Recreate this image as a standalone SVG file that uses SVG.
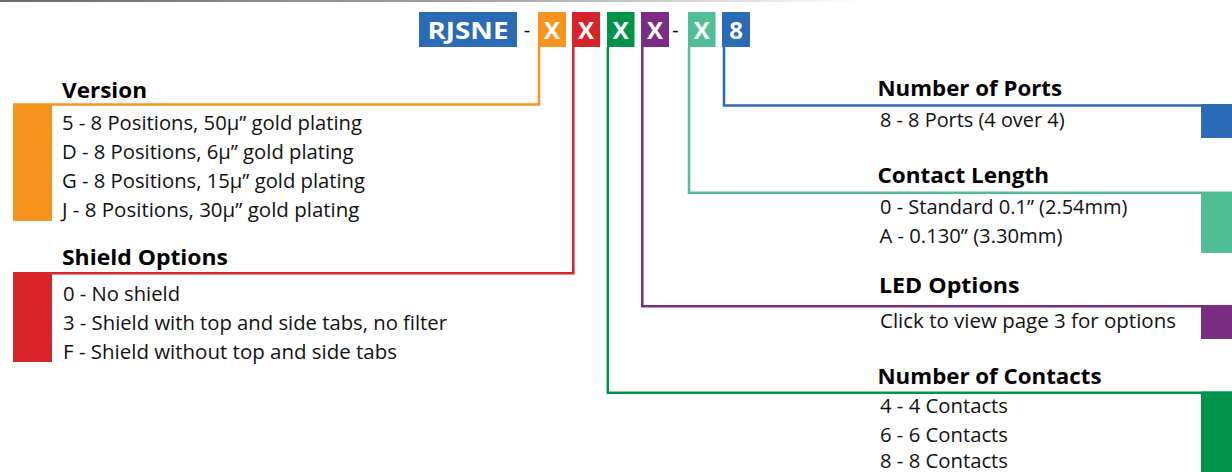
<svg xmlns="http://www.w3.org/2000/svg" width="1232" height="472" viewBox="0 0 1232 472">
<defs>
<linearGradient id="topbar" x1="0" y1="0" x2="1" y2="0">
<stop offset="0" stop-color="#6b6b6b"/>
<stop offset="0.4" stop-color="#a6a6a6"/>
<stop offset="0.7" stop-color="#ffffff"/>
</linearGradient>
<style>
.h{font-family:"Open Sans","Noto Sans",sans-serif;font-weight:bold;font-size:22px;fill:#000}
.t{font-family:"Open Sans","Noto Sans",sans-serif;font-size:20px;fill:#111}
.c{font-family:"Open Sans","Noto Sans",sans-serif;font-weight:bold;font-size:24px;fill:#fff;text-anchor:middle}
.d{font-family:"Open Sans","Noto Sans",sans-serif;font-size:20px;fill:#000;text-anchor:middle}
.ln{fill:none;stroke-width:2.5}
</style>
</defs>
<rect x="0" y="0" width="1232" height="472" fill="#fff"/>
<rect x="0" y="0" width="1232" height="2" fill="url(#topbar)"/>

<g id="code">
<rect x="419" y="12" width="98" height="35" fill="#2B6AB5"/>
<text class="c" x="468" y="38.5" textLength="81" lengthAdjust="spacingAndGlyphs">RJSNE</text>
<text class="d" x="527" y="37">-</text>
<rect x="538" y="12" width="28" height="35" fill="#F7941D"/>
<text class="c" x="552" y="38.5">X</text>
<rect x="572" y="12" width="28" height="35" fill="#D7232A"/>
<text class="c" x="586" y="38.5">X</text>
<rect x="607" y="12" width="27.5" height="35" fill="#00944A"/>
<text class="c" x="620.7" y="38.5">X</text>
<rect x="641" y="12" width="28" height="35" fill="#7B2D84"/>
<text class="c" x="655" y="38.5">X</text>
<text class="d" x="675.5" y="37">-</text>
<rect x="688" y="12" width="27.5" height="35" fill="#52BE97"/>
<text class="c" x="701.7" y="38.5">X</text>
<rect x="722" y="12" width="28" height="35" fill="#2B6AB5"/>
<text class="c" x="736" y="38.5">8</text>
</g>

<g id="connectors">
<path class="ln" stroke="#F7941D" d="M539,47 V104.5 H13"/>
<path class="ln" stroke="#D7232A" d="M573.3,47 V273.3 H13"/>
<path class="ln" stroke="#00944A" d="M607.8,47 V392.7 H1232"/>
<path class="ln" stroke="#7B2D84" d="M642.3,47 V306.2 H1232"/>
<path class="ln" stroke="#52BE97" d="M689,47 V192.8 H1232"/>
<path class="ln" stroke="#2B6AB5" d="M724,47 V105.5 H1232"/>
</g>

<g id="version">
<rect x="13" y="104" width="39" height="117" fill="#F7941D"/>
<text class="h" x="62" y="97.5" textLength="85" lengthAdjust="spacingAndGlyphs">Version</text>
<text class="t" x="62" y="129.5" textLength="300" lengthAdjust="spacingAndGlyphs">5 - 8 Positions, 50µ” gold plating</text>
<text class="t" x="62" y="158.5" textLength="291.5" lengthAdjust="spacingAndGlyphs">D - 8 Positions, 6µ” gold plating</text>
<text class="t" x="62" y="187.5" textLength="303" lengthAdjust="spacingAndGlyphs">G - 8 Positions, 15µ” gold plating</text>
<text class="t" x="62" y="216.5" textLength="297.5" lengthAdjust="spacingAndGlyphs">J - 8 Positions, 30µ” gold plating</text>
</g>

<g id="shield">
<rect x="13" y="272" width="39" height="90" fill="#D7232A"/>
<text class="h" x="62" y="264.5" textLength="166" lengthAdjust="spacingAndGlyphs">Shield Options</text>
<text class="t" x="63" y="300.5" textLength="117" lengthAdjust="spacingAndGlyphs">0 - No shield</text>
<text class="t" x="63" y="329.5" textLength="384" lengthAdjust="spacingAndGlyphs">3 - Shield with top and side tabs, no filter</text>
<text class="t" x="63" y="358.5" textLength="334" lengthAdjust="spacingAndGlyphs">F - Shield without top and side tabs</text>
</g>

<g id="ports">
<rect x="1201" y="104" width="31" height="34" fill="#2B6AB5"/>
<text class="h" x="877.5" y="96" textLength="184.5" lengthAdjust="spacingAndGlyphs">Number of Ports</text>
<text class="t" x="880" y="126.7" textLength="184.5" lengthAdjust="spacingAndGlyphs">8 - 8 Ports (4 over 4)</text>
</g>

<g id="contact-length">
<rect x="1201" y="192" width="31" height="61" fill="#52BE97"/>
<text class="h" x="877.5" y="183.3" textLength="171.5" lengthAdjust="spacingAndGlyphs">Contact Length</text>
<text class="t" x="880" y="214" textLength="247.5" lengthAdjust="spacingAndGlyphs">0 - Standard 0.1” (2.54mm)</text>
<text class="t" x="879.5" y="242.7" textLength="183" lengthAdjust="spacingAndGlyphs">A - 0.130” (3.30mm)</text>
</g>

<g id="led">
<rect x="1201" y="305" width="31" height="34" fill="#7B2D84"/>
<text class="h" x="879" y="293.3" textLength="140.5" lengthAdjust="spacingAndGlyphs">LED Options</text>
<text class="t" x="880" y="328.3" textLength="296" lengthAdjust="spacingAndGlyphs">Click to view page 3 for options</text>
</g>

<g id="contacts">
<rect x="1201" y="391.5" width="31" height="80.5" fill="#00944A"/>
<text class="h" x="877.5" y="384" textLength="224" lengthAdjust="spacingAndGlyphs">Number of Contacts</text>
<text class="t" x="880" y="413.3" textLength="128" lengthAdjust="spacingAndGlyphs">4 - 4 Contacts</text>
<text class="t" x="880" y="441.7" textLength="128" lengthAdjust="spacingAndGlyphs">6 - 6 Contacts</text>
<text class="t" x="880" y="468" textLength="128" lengthAdjust="spacingAndGlyphs">8 - 8 Contacts</text>
</g>
</svg>
